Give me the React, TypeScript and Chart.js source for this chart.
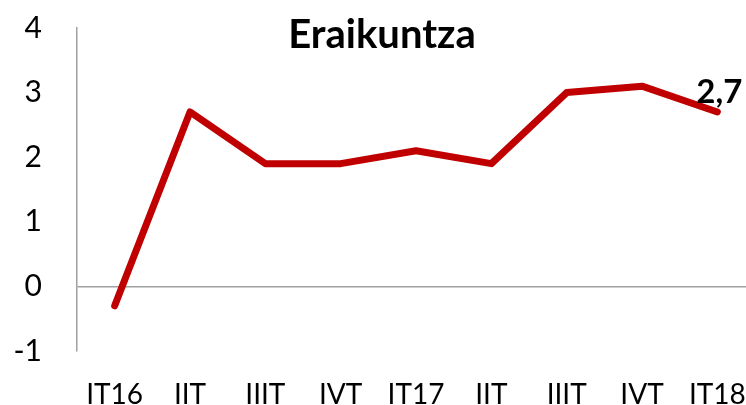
import React, { useEffect, useRef } from "react";
import { Chart, registerables } from "chart.js";

Chart.register(...registerables);

const categories = ["IT16", "IIT", "IIIT", "IVT", "IT17", "IIT", "IIIT", "IVT", "IT18"];
const values = [-0.3, 2.7, 1.9, 1.9, 2.1, 1.9, 3.0, 3.1, 2.7];
const yTicks = [-1, 0, 1, 2, 3, 4];
const title = "Eraikuntza";
const lastLabel = "2,7";

const FONT = "Lato, 'Open Sans', sans-serif";

export default function App() {
  const ref = useRef<HTMLCanvasElement | null>(null);
  useEffect(() => {
    if (!ref.current) return;
    const labelPlugin = {
      id: "extras",
      afterDatasetsDraw(chart: any) {
        const ctx = chart.ctx;
        const meta = chart.getDatasetMeta(0);
        const pt = meta.data[meta.data.length - 1];
        ctx.save();
        ctx.fillStyle = "#000";
        ctx.font = `bold 33px ${FONT}`;
        ctx.textAlign = "center";
        ctx.textBaseline = "alphabetic";
        ctx.fillText(lastLabel, pt.x + 2, pt.y - 9);
        ctx.font = `bold 40px ${FONT}`;
        ctx.fillText(title, 382, 48);
        ctx.restore();
      },
    };
    const chart = new Chart(ref.current, {
      type: "line",
      data: {
        datasets: [
          {
            data: values.map((v, i) => ({ x: i, y: v })),
            borderColor: "#C00000",
            borderWidth: 7,
            pointRadius: 0,
            borderCapStyle: "round",
            borderJoinStyle: "round",
            tension: 0,
          },
        ],
      },
      options: {
        animation: false,
        responsive: false,
        maintainAspectRatio: false,
        layout: { padding: { left: 0, right: 0, top: 28, bottom: 0 } },
        plugins: { legend: { display: false }, tooltip: { enabled: false }, title: { display: false } },
        scales: {
          x: {
            type: "linear",
            min: -0.5,
            max: 8.38,
            afterBuildTicks: (s: any) => {
              s.ticks = categories.map((_, i) => ({ value: i }));
            },
            afterFit: (s: any) => {
              s.height = 54;
              s.paddingLeft = 0;
              s.paddingRight = 0;
            },
            ticks: {
              callback: (v: any) => categories[v as number] ?? "",
              color: "#000",
              font: { family: FONT, size: 28 },
              padding: 27,
              maxRotation: 0,
              autoSkip: false,
            },
            grid: { display: false, drawTicks: false },
            border: { display: false },
          },
          y: {
            min: -1,
            max: 4,
            afterBuildTicks: (s: any) => {
              s.ticks = yTicks.map((v) => ({ value: v }));
            },
            afterFit: (s: any) => {
              s.width = 77;
              s.paddingTop = 0;
              s.paddingBottom = 0;
            },
            ticks: {
              color: "#000",
              font: { family: FONT, size: 30 },
              padding: 35,
            },
            grid: {
              drawTicks: false,
              color: (c: any) => (c.tick && c.tick.value === 0 ? "#A0A0A0" : "rgba(0,0,0,0)"),
              lineWidth: 1.5,
            },
            border: { display: true, color: "#A0A0A0", width: 1.5 },
          },
        },
      },
      plugins: [labelPlugin],
    } as any);
    return () => chart.destroy();
  }, []);
  return (
    <div style={{ position: "fixed", left: 0, top: 0, width: 746, height: 405, background: "#fff" }}>
      <canvas ref={ref} width={746} height={405} style={{ width: 746, height: 405, display: "block" }} />
    </div>
  );
}
